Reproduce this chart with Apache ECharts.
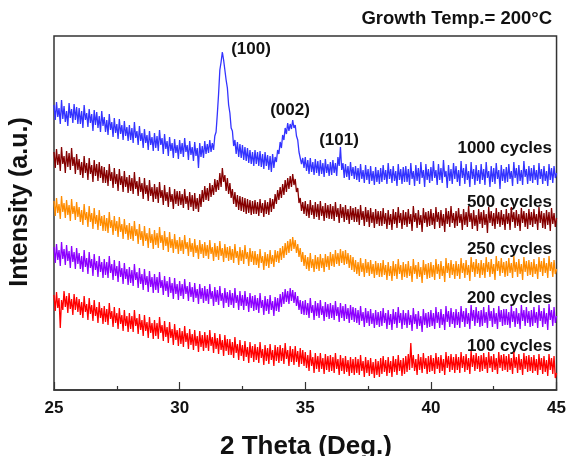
<!DOCTYPE html>
<html>
<head>
<meta charset="utf-8">
<script src="https://cdn.jsdelivr.net/npm/echarts@6/dist/echarts.min.js"></script>
<style>
  html, body { margin: 0; padding: 0; background: #fff; }
  #chart { width: 569px; height: 456px; }
</style>
</head>
<body>
<div id="chart"></div>
<script>
// XRD scans, 25 - 45 deg, 0.05 deg step (arbitrary units)
// one line per degree, 20 points each
const scanStart = 25
const scanStep = 0.05

const cycles1000 = [
  285, 270, 288, 273, 282, 266, 290, 271, 284, 268, 279, 264, 287, 272, 281, 267, 286, 270, 283, 266,
  282, 266, 279, 262, 285, 270, 277, 263, 281, 267, 276, 259, 280, 265, 278, 262, 274, 258, 279, 264,
  273, 258, 270, 255, 276, 260, 268, 253, 272, 257, 266, 251, 271, 256, 265, 250, 269, 254, 263, 249,
  265, 250, 262, 247, 268, 252, 259, 245, 264, 249, 257, 242, 261, 247, 255, 240, 259, 245, 253, 239,
  257, 242, 254, 239, 260, 245, 252, 236, 256, 241, 249, 234, 253, 239, 247, 232, 251, 237, 245, 231,
  250, 236, 247, 233, 252, 238, 245, 230, 249, 235, 243, 229, 248, 234, 242, 222, 247, 233, 244, 232,
  249, 236, 246, 237, 250, 238, 247, 240, 254, 258, 276, 296, 320, 328, 338, 330, 330, 310, 302, 285,
  277, 262, 259, 244, 250, 236, 248, 233, 246, 232, 245, 230, 243, 229, 242, 227, 240, 226, 238, 224,
  240, 226, 238, 224, 239, 223, 236, 221, 238, 224, 235, 220, 234, 218, 236, 222, 233, 228, 240, 236,
  248, 242, 255, 250, 262, 256, 267, 259, 266, 261, 270, 262, 265, 254, 250, 238, 237, 226, 232, 222,
  233, 219, 230, 216, 232, 218, 228, 215, 231, 217, 229, 214, 230, 216, 227, 213, 231, 217, 226, 214,
  228, 215, 230, 217, 227, 214, 233, 224, 243, 220, 227, 212, 226, 213, 224, 210, 228, 214, 223, 211,
  224, 210, 222, 208, 226, 211, 220, 207, 225, 210, 221, 206, 224, 209, 219, 205, 223, 208, 220, 206,
  222, 208, 225, 210, 220, 206, 227, 211, 221, 207, 224, 209, 219, 204, 226, 210, 221, 206, 223, 208,
  224, 208, 221, 205, 227, 211, 219, 204, 225, 209, 222, 206, 228, 212, 220, 203, 226, 210, 221, 207,
  223, 209, 229, 212, 220, 205, 226, 210, 222, 207, 230, 213, 219, 202, 225, 209, 221, 206, 227, 211,
  224, 208, 220, 204, 229, 212, 222, 206, 226, 210, 219, 203, 228, 211, 221, 205, 225, 209, 220, 206,
  226, 210, 221, 205, 228, 212, 219, 203, 224, 208, 222, 206, 227, 211, 220, 201, 225, 209, 221, 207,
  223, 208, 226, 211, 219, 204, 228, 212, 222, 206, 225, 209, 220, 205, 229, 213, 221, 206, 224, 209,
  222, 207, 225, 210, 220, 205, 227, 211, 221, 206, 224, 209, 219, 204, 226, 210, 222, 207, 224, 212,
  217
]

const cycles500 = [
  238, 222, 241, 225, 236, 219, 243, 226, 234, 217, 239, 223, 237, 220, 242, 224, 233, 216, 236, 220,
  231, 215, 228, 212, 234, 217, 227, 210, 232, 216, 225, 208, 230, 214, 226, 209, 228, 212, 224, 207,
  223, 207, 220, 204, 226, 209, 218, 202, 222, 206, 216, 199, 221, 205, 214, 198, 219, 203, 213, 197,
  215, 199, 212, 196, 218, 201, 209, 194, 213, 198, 207, 191, 212, 196, 205, 189, 210, 194, 203, 188,
  206, 191, 203, 187, 208, 192, 200, 185, 205, 189, 198, 183, 203, 188, 196, 181, 201, 186, 199, 184,
  199, 185, 196, 182, 201, 186, 194, 180, 198, 183, 195, 179, 197, 181, 192, 178, 196, 183, 200, 188,
  204, 190, 202, 189, 207, 193, 205, 195, 211, 198, 210, 200, 217, 203, 222, 208, 215, 199, 212, 196,
  207, 192, 201, 186, 198, 183, 195, 180, 194, 179, 193, 178, 192, 176, 191, 177, 190, 175, 189, 176,
  190, 176, 188, 174, 191, 177, 187, 173, 190, 176, 188, 175, 192, 178, 191, 181, 196, 186, 200, 190,
  203, 192, 206, 195, 210, 198, 212, 201, 214, 203, 216, 205, 211, 198, 202, 187, 192, 179, 188, 176,
  189, 174, 186, 172, 190, 175, 185, 171, 188, 173, 186, 170, 189, 174, 184, 169, 187, 172, 185, 171,
  186, 171, 184, 169, 188, 173, 182, 167, 186, 172, 183, 168, 185, 170, 181, 166, 184, 170, 182, 168,
  183, 168, 181, 165, 185, 170, 179, 164, 183, 168, 180, 163, 182, 167, 178, 162, 181, 166, 179, 164,
  179, 164, 182, 166, 177, 161, 180, 165, 176, 160, 181, 166, 178, 162, 183, 167, 177, 161, 180, 165,
  178, 163, 181, 166, 176, 159, 184, 168, 177, 162, 180, 165, 175, 158, 182, 167, 178, 163, 179, 164,
  181, 165, 177, 161, 183, 168, 178, 162, 180, 164, 176, 158, 182, 166, 179, 163, 184, 167, 177, 162,
  179, 164, 182, 167, 176, 160, 181, 165, 178, 163, 184, 168, 177, 161, 180, 164, 175, 159, 181, 166,
  178, 162, 180, 165, 176, 157, 183, 167, 179, 164, 177, 161, 182, 166, 178, 163, 180, 165, 176, 160,
  181, 166, 177, 160, 183, 168, 178, 162, 180, 164, 176, 159, 182, 167, 179, 163, 177, 161, 181, 165,
  178, 163, 181, 166, 176, 160, 183, 167, 179, 162, 177, 161, 180, 165, 178, 159, 182, 166, 177, 163,
  172
]

const cycles250 = [
  189, 174, 192, 177, 186, 171, 194, 178, 187, 172, 190, 175, 185, 169, 191, 176, 184, 170, 188, 173,
  183, 168, 180, 165, 186, 170, 178, 163, 184, 168, 177, 161, 182, 166, 175, 160, 180, 164, 174, 159,
  175, 159, 172, 157, 178, 162, 170, 155, 174, 159, 169, 153, 173, 158, 166, 151, 171, 156, 165, 150,
  167, 151, 164, 149, 169, 154, 161, 146, 166, 150, 159, 144, 164, 149, 157, 142, 162, 147, 156, 141,
  160, 145, 157, 142, 163, 147, 155, 140, 159, 144, 153, 138, 158, 142, 151, 137, 156, 141, 150, 136,
  153, 139, 150, 136, 155, 141, 148, 134, 152, 138, 147, 133, 151, 137, 145, 131, 150, 136, 146, 132,
  148, 134, 145, 131, 150, 136, 143, 129, 147, 133, 144, 130, 149, 134, 142, 128, 146, 132, 143, 129,
  144, 130, 141, 127, 146, 132, 139, 125, 143, 129, 140, 126, 145, 131, 138, 124, 142, 128, 139, 125,
  139, 125, 136, 122, 141, 127, 134, 120, 138, 124, 136, 122, 140, 126, 135, 123, 140, 128, 139, 127,
  142, 130, 144, 132, 147, 135, 149, 137, 151, 139, 153, 141, 150, 137, 146, 133, 142, 128, 138, 124,
  135, 121, 133, 119, 137, 122, 131, 118, 135, 121, 133, 119, 136, 122, 132, 118, 136, 123, 134, 120,
  138, 124, 136, 123, 140, 126, 137, 124, 141, 127, 139, 125, 140, 126, 137, 122, 135, 120, 133, 118,
  130, 116, 128, 114, 132, 118, 127, 113, 131, 117, 128, 114, 130, 116, 126, 112, 129, 115, 127, 113,
  127, 113, 130, 115, 125, 110, 128, 114, 124, 109, 129, 114, 126, 111, 131, 116, 125, 110, 128, 113,
  126, 112, 129, 114, 124, 108, 131, 116, 125, 111, 128, 113, 123, 107, 130, 115, 126, 111, 127, 112,
  128, 113, 125, 110, 131, 116, 126, 111, 129, 114, 124, 108, 132, 117, 127, 112, 130, 115, 126, 111,
  129, 114, 126, 111, 132, 117, 127, 112, 130, 115, 125, 109, 133, 118, 128, 113, 131, 116, 127, 112,
  130, 115, 127, 112, 133, 118, 128, 113, 131, 116, 126, 110, 134, 119, 129, 114, 132, 117, 128, 113,
  129, 114, 132, 117, 127, 112, 134, 118, 128, 113, 131, 116, 126, 110, 133, 118, 129, 114, 130, 115,
  128, 113, 131, 116, 126, 111, 133, 118, 129, 114, 132, 117, 127, 112, 134, 119, 128, 113, 130, 116,
  121
]

const cycles200 = [
  143, 127, 146, 130, 140, 124, 148, 131, 141, 125, 145, 129, 139, 122, 144, 128, 138, 121, 142, 126,
  137, 121, 134, 118, 140, 123, 132, 116, 138, 122, 131, 114, 136, 120, 129, 113, 134, 118, 128, 112,
  131, 115, 128, 112, 134, 117, 126, 110, 130, 114, 124, 108, 129, 113, 122, 106, 127, 111, 121, 105,
  123, 107, 120, 104, 126, 110, 118, 102, 122, 106, 116, 100, 121, 105, 114, 98, 119, 103, 113, 97,
  116, 100, 113, 97, 118, 102, 110, 95, 114, 99, 109, 93, 113, 97, 107, 91, 112, 96, 106, 90,
  109, 94, 106, 91, 111, 96, 104, 89, 108, 93, 103, 88, 107, 92, 101, 86, 106, 91, 102, 87,
  104, 89, 101, 86, 106, 91, 99, 84, 103, 88, 100, 85, 104, 89, 97, 82, 102, 87, 98, 83,
  100, 85, 97, 82, 102, 87, 95, 80, 99, 84, 95, 80, 99, 84, 93, 78, 97, 82, 94, 79,
  95, 80, 92, 77, 97, 82, 90, 75, 94, 79, 91, 76, 95, 80, 89, 74, 93, 79, 92, 78,
  96, 83, 98, 86, 101, 88, 99, 86, 102, 89, 100, 87, 98, 84, 94, 80, 90, 76, 89, 75,
  90, 75, 87, 72, 92, 77, 85, 70, 89, 74, 87, 72, 90, 75, 84, 69, 88, 73, 86, 71,
  87, 72, 85, 70, 89, 74, 83, 68, 87, 72, 84, 69, 86, 71, 82, 67, 85, 70, 83, 68,
  82, 67, 80, 65, 84, 69, 78, 63, 82, 67, 79, 64, 81, 66, 77, 62, 80, 65, 78, 63,
  79, 64, 82, 67, 77, 61, 80, 65, 76, 60, 81, 66, 78, 62, 83, 67, 77, 61, 80, 65,
  77, 62, 80, 65, 75, 59, 82, 66, 76, 61, 79, 64, 74, 58, 81, 65, 77, 62, 78, 63,
  80, 64, 77, 61, 83, 67, 78, 62, 81, 65, 76, 60, 84, 68, 79, 63, 82, 66, 78, 62,
  81, 65, 78, 62, 84, 68, 79, 63, 82, 66, 77, 61, 85, 69, 80, 64, 83, 67, 79, 63,
  80, 64, 83, 67, 78, 62, 85, 69, 79, 63, 82, 66, 77, 61, 84, 68, 80, 64, 81, 65,
  81, 65, 78, 62, 84, 68, 79, 63, 82, 66, 77, 61, 85, 69, 80, 64, 83, 67, 79, 63,
  80, 64, 83, 67, 78, 62, 85, 69, 79, 63, 82, 66, 77, 60, 86, 70, 80, 64, 83, 67,
  74
]

const cycles100 = [
  95, 79, 98, 82, 92, 62, 90, 80, 99, 83, 94, 77, 97, 81, 91, 75, 96, 80, 93, 78,
  91, 75, 88, 72, 94, 78, 86, 70, 92, 76, 85, 69, 90, 74, 83, 67, 88, 72, 82, 66,
  84, 68, 81, 65, 87, 71, 79, 63, 83, 67, 77, 61, 82, 66, 75, 59, 80, 64, 74, 58,
  77, 61, 74, 58, 80, 64, 72, 56, 76, 60, 70, 54, 75, 59, 68, 52, 73, 57, 67, 51,
  70, 54, 67, 51, 73, 57, 65, 49, 69, 53, 63, 47, 68, 52, 61, 45, 66, 50, 60, 44,
  62, 46, 59, 43, 64, 48, 57, 41, 61, 45, 56, 40, 60, 44, 54, 38, 59, 43, 55, 39,
  58, 42, 55, 39, 60, 44, 53, 37, 57, 41, 52, 36, 56, 40, 50, 34, 55, 39, 51, 35,
  51, 35, 48, 32, 53, 37, 46, 30, 50, 34, 45, 29, 49, 33, 43, 27, 48, 32, 44, 28,
  46, 30, 43, 27, 48, 32, 41, 25, 45, 29, 42, 26, 46, 30, 40, 24, 45, 29, 43, 27,
  45, 29, 42, 26, 47, 31, 40, 24, 44, 28, 41, 25, 44, 28, 39, 23, 42, 26, 40, 24,
  38, 22, 35, 19, 40, 24, 33, 17, 37, 21, 34, 18, 37, 21, 32, 16, 36, 20, 34, 18,
  35, 19, 33, 17, 37, 21, 31, 15, 35, 19, 32, 16, 34, 18, 30, 14, 33, 17, 31, 15,
  33, 17, 31, 15, 35, 19, 29, 13, 33, 17, 30, 14, 32, 16, 28, 12, 31, 15, 29, 13,
  32, 16, 34, 18, 30, 14, 33, 17, 29, 13, 34, 18, 31, 15, 35, 19, 30, 14, 32, 16,
  34, 18, 36, 20, 47, 22, 35, 19, 31, 15, 36, 20, 33, 17, 37, 21, 32, 16, 34, 18,
  35, 19, 32, 16, 37, 21, 33, 17, 35, 19, 31, 15, 38, 22, 34, 18, 36, 20, 33, 17,
  36, 20, 33, 17, 38, 22, 34, 18, 36, 20, 32, 16, 39, 23, 35, 19, 37, 21, 34, 18,
  35, 19, 37, 21, 33, 17, 38, 22, 34, 18, 36, 20, 32, 16, 38, 22, 35, 19, 36, 20,
  34, 18, 36, 20, 32, 16, 38, 22, 33, 17, 36, 20, 31, 15, 37, 21, 34, 18, 35, 19,
  33, 17, 35, 19, 31, 15, 36, 20, 32, 16, 34, 18, 30, 14, 36, 20, 32, 16, 34, 12,
  17
]

const seriesNames = ['1000 cycles', '500 cycles', '250 cycles', '200 cycles', '100 cycles']
const seriesColors = ['#3333ff', '#850000', '#ff8c00', '#8c00ff', '#ff0000']
const allSeries = [cycles1000, cycles500, cycles250, cycles200, cycles100]

const font = '"Liberation Sans", Arial, Helvetica, sans-serif'

// pair each intensity with its 2theta step
function toPairs(values) {
  var out = []
  for (let i = 0; i < values.length; i++) {
    out.push([+(scanStart + i * scanStep).toFixed(2), values[i]])
  }
  return out
}

function label(text, x, y, size, align) {
  return {
    type: 'text',
    x: x,
    y: y,
    style: {
      text: text,
      fill: '#111',
      font: 'bold ' + size + 'px ' + font,
      align: align,
      textAlign: align,
      verticalAlign: 'middle',
      textVerticalAlign: 'middle'
    }
  }
}

const chart = echarts.init(document.getElementById('chart'), null, { renderer: 'canvas' })

const options = {
  animation: false,
  backgroundColor: '#fff',
  grid: {
    left: 54,
    right: 10,
    top: 36,
    bottom: 66,
    show: true,
    borderColor: '#333',
    borderWidth: 1.5
  },
  xAxis: {
    type: 'value',
    min: 25,
    max: 45,
    interval: 5,
    axisLine: { show: true, lineStyle: { color: '#333', width: 1.5 } },
    axisTick: { show: true, inside: true, length: 8, lineStyle: { color: '#333', width: 1.2 } },
    minorTick: { show: true, splitNumber: 2, length: 4, lineStyle: { color: '#333', width: 1.2 } },
    axisLabel: { color: '#111', fontFamily: font, fontWeight: 'bold', fontSize: 17, margin: 10 },
    splitLine: { show: false }
  },
  yAxis: {
    type: 'value',
    min: 0,
    max: 354,
    axisLine: { show: false },
    axisTick: { show: false },
    axisLabel: { show: false },
    splitLine: { show: false }
  },
  series: allSeries.map(function (vals, i) {
    return {
      name: seriesNames[i],
      type: 'line',
      data: toPairs(vals),
      showSymbol: false,
      symbol: 'none',
      lineStyle: { color: seriesColors[i], width: 1.3 },
      z: 10 - i
    }
  }),
  graphic: [
    label('Growth Temp.= 200\u00b0C', 552, 19, 18.5, 'right'),
    label('Intensity (a.u.)', 0, 0, 25, 'center'),
    label('2 Theta (Deg.)', 306, 447, 26, 'center'),
    label('(100)', 251, 49, 17, 'center'),
    label('(002)', 290, 110, 17, 'center'),
    label('(101)', 339, 140, 17, 'center'),
    label(seriesNames[0], 552, 148, 17, 'right'),
    label(seriesNames[1], 552, 202, 17, 'right'),
    label(seriesNames[2], 552, 249, 17, 'right'),
    label(seriesNames[3], 552, 298, 17, 'right'),
    label(seriesNames[4], 552, 346, 17, 'right')
  ]
}
// rotate the y title
options.graphic[1].x = 20
options.graphic[1].y = 202
options.graphic[1].rotation = Math.PI / 2

chart.setOption(options)
</script>
</body>
</html>
